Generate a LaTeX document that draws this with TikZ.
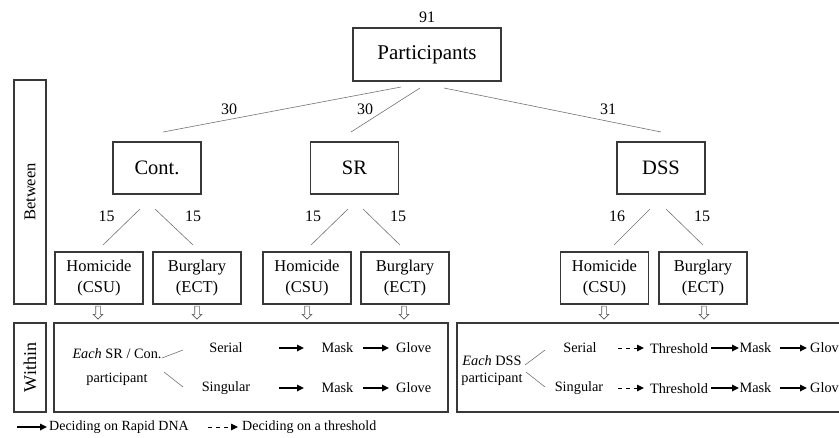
\documentclass[tikz,border=0pt]{standalone}
\usepackage{fontspec}
\setmainfont{Liberation Serif}
\usetikzlibrary{shapes.arrows,arrows.meta}
\begin{document}
\begin{tikzpicture}[x=1pt,y=-1pt,
 box/.style={draw=black!78, line width=1.2pt, inner sep=0pt, align=center},
 conn/.style={draw=black!55, line width=0.6pt},
 num/.style={font=\fontsize{16}{19}\selectfont, inner sep=0pt},
 big/.style={box, minimum width=88pt, minimum height=52pt, font=\fontsize{20.5}{24}\selectfont},
 kid/.style={box, minimum width=88pt, minimum height=52pt, font=\fontsize{16.5}{21.5}\selectfont},
 side/.style={box, rotate=90, minimum height=32pt},
 hollow/.style={single arrow, draw=black!65, fill=white, line width=0.6pt, rotate=-90, minimum height=13pt, inner sep=2pt, single arrow head extend=2.5pt, single arrow head indent=0pt},
 txt/.style={font=\fontsize{14.3}{17}\selectfont, inner sep=0pt},
 leg/.style={font=\fontsize{14}{17}\selectfont, inner sep=0pt, anchor=west},
 solidarr/.style={line width=1.6pt, -{Triangle[length=7pt,width=6.5pt]}},
 dasharr/.style={line width=0.9pt, dash pattern=on 4pt off 4pt, -{Triangle[length=7pt,width=6.5pt]}},
]
\useasboundingbox (0,0) rectangle (839,437);
\clip (0,0) rectangle (839,437);

% top level
\node[box, minimum width=148pt, minimum height=53pt, font=\fontsize{21}{25}\selectfont] (P) at (427,54.5) {Participants};
\node[num] (n91) at (427,17) {91};

% groups
\node[big] (C) at (157,168) {Cont.};
\node[big] (S) at (354.5,168) {SR};
\node[big] (D) at (661,168) {DSS};

% children
\node[kid] (CH) at (99,278) {Homicide\\(CSU)};
\node[kid] (CB) at (197,278) {Burglary\\(ECT)};
\node[kid] (SH) at (307,278) {Homicide\\(CSU)};
\node[kid] (SB) at (405,278) {Burglary\\(ECT)};
\node[kid] (DH) at (604.5,278) {Homicide\\(CSU)};
\node[kid] (DB) at (703,278) {Burglary\\(ECT)};

% side labels
\node[side, minimum width=224pt, font=\fontsize{16.5}{19}\selectfont] (between) at (30,192) {Between};
\node[side, minimum width=89pt, font=\fontsize{18}{20}\selectfont] (within) at (30,367.5) {Within};

% connector end points
\coordinate (p1) at (401,87);  \coordinate (c0) at (163,132);
\coordinate (p2) at (420,88);  \coordinate (s0) at (351,132);
\coordinate (p3) at (444,88);  \coordinate (d0) at (661,132);
\coordinate (c1) at (140,209); \coordinate (ch0) at (103,245);
\coordinate (c2) at (155,209); \coordinate (cb0) at (193,245);
\coordinate (s1) at (348,209); \coordinate (sh0) at (311,245);
\coordinate (s2) at (363,209); \coordinate (sb0) at (400,245);
\coordinate (d1) at (650,209); \coordinate (dh0) at (614,245);
\coordinate (d2) at (666,209); \coordinate (db0) at (703,245);

\draw[conn] (p1) -- (c0);
\draw[conn] (p2) -- (s0);
\draw[conn] (p3) -- (d0);
\draw[conn] (c1) -- (ch0);
\draw[conn] (c2) -- (cb0);
\draw[conn] (s1) -- (sh0);
\draw[conn] (s2) -- (sb0);
\draw[conn] (d1) -- (dh0);
\draw[conn] (d2) -- (db0);

% numbers
\node[num] (l30a) at (229,109) {30};
\node[num] (l30b) at (365,109) {30};
\node[num] (l31) at (608,109) {31};
\node[num] (lc1) at (106.5,216) {15};
\node[num] (lc2) at (193,216) {15};
\node[num] (ls1) at (313,216) {15};
\node[num] (ls2) at (398,216) {15};
\node[num] (ld1) at (617,216) {16};
\node[num] (ld2) at (702,216) {15};

% hollow arrows
\node[hollow] (h1) at (98,311.5) {};
\node[hollow] (h2) at (197,311.5) {};
\node[hollow] (h3) at (307,311.5) {};
\node[hollow] (h4) at (404,311.5) {};
\node[hollow] (h5) at (604,311.5) {};
\node[hollow] (h6) at (704,311.5) {};

% within boxes
\node[box, minimum width=394pt, minimum height=89pt] (WL) at (251,367.5) {};
\node[box, minimum width=413pt, minimum height=89pt] (WR) at (663.5,367.5) {};

% left within content
\node[txt, align=center] (eachL) at (117,367.5) {\textit{Each} SR / Con.\\[7pt]participant};
\coordinate (el1) at (162,358); \coordinate (el1e) at (183,350);
\coordinate (el2) at (164,372); \coordinate (el2e) at (183,387);
\draw[conn] (el1) -- (el1e);
\draw[conn] (el2) -- (el2e);
\node[txt] (serL) at (226,348) {Serial};
\node[txt] (sinL) at (226,388) {Singular};
\node[txt] (maskL1) at (337.5,348) {Mask};
\node[txt] (maskL2) at (337.5,388) {Mask};
\node[txt, anchor=west] (gloveL1) at (396,348) {Glove};
\node[txt, anchor=west] (gloveL2) at (396,388) {Glove};
\coordinate (aL1s) at (279,348); \coordinate (aL1e) at (304,348);
\coordinate (aL2s) at (363,348); \coordinate (aL2e) at (389,348);
\coordinate (aL3s) at (279,388); \coordinate (aL3e) at (304,388);
\coordinate (aL4s) at (363,388); \coordinate (aL4e) at (389,388);
\draw[solidarr] (aL1s) -- (aL1e);
\draw[solidarr] (aL2s) -- (aL2e);
\draw[solidarr] (aL3s) -- (aL3e);
\draw[solidarr] (aL4s) -- (aL4e);

% right within content
\node[txt, align=center] (eachR) at (492,371) {\textit{Each} DSS\\participant};
\coordinate (er1) at (525,365); \coordinate (er1e) at (545,350);
\coordinate (er2) at (526,372); \coordinate (er2e) at (545,387);
\draw[conn] (er1) -- (er1e);
\draw[conn] (er2) -- (er2e);
\node[txt] (serR) at (580,348) {Serial};
\node[txt] (sinR) at (579,388) {Singular};
\node[txt] (thR1) at (679,349) {Threshold};
\node[txt] (thR2) at (679,389) {Threshold};
\node[txt] (maskR1) at (755.5,348) {Mask};
\node[txt] (maskR2) at (755.5,388) {Mask};
\node[txt, anchor=west] (gloveR1) at (810,348) {Glove};
\node[txt, anchor=west] (gloveR2) at (810,388) {Glove};
\coordinate (bR1s) at (618,348); \coordinate (bR1e) at (644,348);
\coordinate (bR2s) at (618,388); \coordinate (bR2e) at (644,388);
\draw[dasharr] (bR1s) -- (bR1e);
\draw[dasharr] (bR2s) -- (bR2e);
\coordinate (aR1s) at (711,348); \coordinate (aR1e) at (739,348);
\coordinate (aR2s) at (780,348); \coordinate (aR2e) at (807,348);
\coordinate (aR3s) at (711,388); \coordinate (aR3e) at (739,388);
\coordinate (aR4s) at (780,388); \coordinate (aR4e) at (807,388);
\draw[solidarr] (aR1s) -- (aR1e);
\draw[solidarr] (aR2s) -- (aR2e);
\draw[solidarr] (aR3s) -- (aR3e);
\draw[solidarr] (aR4s) -- (aR4e);

% legend
\coordinate (lg1s) at (17,427); \coordinate (lg1e) at (47,427);
\coordinate (lg2s) at (208,427); \coordinate (lg2e) at (238,427);
\draw[solidarr] (lg1s) -- (lg1e);
\node[leg] (legA) at (49,427) {Deciding on Rapid DNA};
\draw[dasharr] (lg2s) -- (lg2e);
\node[leg] (legB) at (242,427) {Deciding on a threshold};
\end{tikzpicture}
\end{document}
